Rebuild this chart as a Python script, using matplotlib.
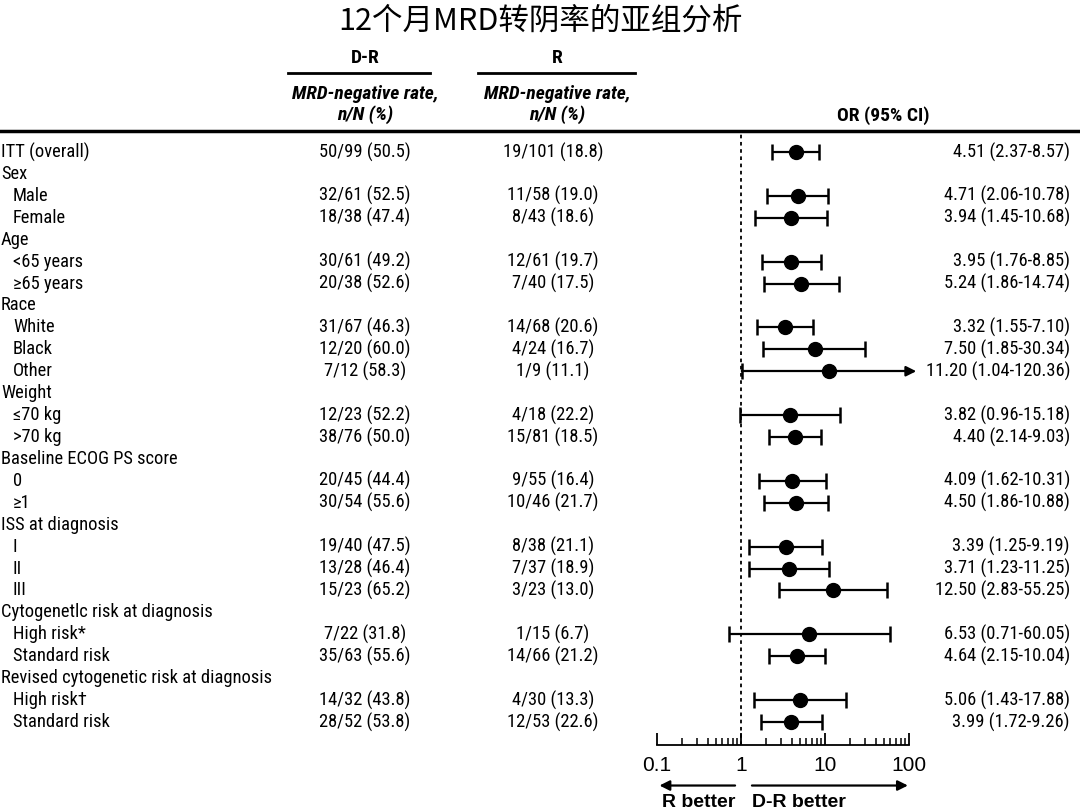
import matplotlib
matplotlib.use('Agg')
import matplotlib.pyplot as plt
import matplotlib.transforms as mtransforms
from matplotlib.ticker import LogLocator, NullFormatter, FixedLocator, FixedFormatter

#--------------------------------------------------
# forest plot: 12-month MRD-negative rate by subgroup
#--------------------------------------------------

labels = ['ITT (overall)', 'Sex', 'Male', 'Female', 'Age', '<65 years', '≥65 years',
          'Race', 'White', 'Black', 'Other', 'Weight', '≤70 kg', '>70 kg',
          'Baseline ECOG PS score', '0', '≥1', 'ISS at diagnosis', 'I', 'II', 'III',
          'Cytogenetlc risk at diagnosis', 'High risk*', 'Standard risk',
          'Revised cytogenetic risk at diagnosis', 'High risk†', 'Standard risk']
indent = [0, 0, 1, 1, 0, 1, 1, 0, 1, 1, 1, 0, 1, 1, 0, 1, 1, 0, 1, 1, 1, 0, 1, 1, 0, 1, 1]

dr_text = ['50/99 (50.5)', '', '32/61 (52.5)', '18/38 (47.4)', '', '30/61 (49.2)', '20/38 (52.6)',
           '', '31/67 (46.3)', '12/20 (60.0)', '7/12 (58.3)', '', '12/23 (52.2)', '38/76 (50.0)',
           '', '20/45 (44.4)', '30/54 (55.6)', '', '19/40 (47.5)', '13/28 (46.4)', '15/23 (65.2)',
           '', '7/22 (31.8)', '35/63 (55.6)', '', '14/32 (43.8)', '28/52 (53.8)']
r_text = ['19/101 (18.8)', '', '11/58 (19.0)', '8/43 (18.6)', '', '12/61 (19.7)', '7/40 (17.5)',
          '', '14/68 (20.6)', '4/24 (16.7)', '1/9 (11.1)', '', '4/18 (22.2)', '15/81 (18.5)',
          '', '9/55 (16.4)', '10/46 (21.7)', '', '8/38 (21.1)', '7/37 (18.9)', '3/23 (13.0)',
          '', '1/15 (6.7)', '14/66 (21.2)', '', '4/30 (13.3)', '12/53 (22.6)']

# odds ratio, lower and upper 95% CI (None for header rows)
odds = [4.51, None, 4.71, 3.94, None, 3.95, 5.24, None, 3.32, 7.50, 11.20, None, 3.82, 4.40,
        None, 4.09, 4.50, None, 3.39, 3.71, 12.50, None, 6.53, 4.64, None, 5.06, 3.99]
lower = [2.37, None, 2.06, 1.45, None, 1.76, 1.86, None, 1.55, 1.85, 1.04, None, 0.96, 2.14,
         None, 1.62, 1.86, None, 1.25, 1.23, 2.83, None, 0.71, 2.15, None, 1.43, 1.72]
upper = [8.57, None, 10.78, 10.68, None, 8.85, 14.74, None, 7.10, 30.34, 120.36, None, 15.18, 9.03,
         None, 10.31, 10.88, None, 9.19, 11.25, 55.25, None, 60.05, 10.04, None, 17.88, 9.26]

W, H = 1080, 810
narrow = ['Roboto Condensed', 'Liberation Sans', 'DejaVu Sans']
wide = ['Liberation Sans', 'DejaVu Sans']
plt.rcParams['font.family'] = narrow

fig = plt.figure(figsize=(10.8, 8.1), dpi=100)

# forest axes placed in pixel positions of the reference
x0, x1 = 657, 909
ytop, ybot = 131, 745
ax = fig.add_axes([x0 / W, 1 - ybot / H, (x1 - x0) / W, (ybot - ytop) / H])
ax.set_xscale('log')
ax.set_xlim(0.1, 100)
row0, rowN = 152, 722
step = (rowN - row0) / (len(labels) - 1)
ax.set_ylim(len(labels) - 1 + (ybot - rowN) / step, -(row0 - ytop) / step)

for s in ['top', 'left', 'right']:
    ax.spines[s].set_visible(False)
ax.spines['bottom'].set_linewidth(1.3)
ax.set_yticks([])
ax.xaxis.set_major_locator(FixedLocator([0.1, 1, 10, 100]))
ax.xaxis.set_major_formatter(FixedFormatter(['0.1', '1', '10', '100']))
ax.xaxis.set_minor_locator(LogLocator(base=10, subs=range(2, 10)))
ax.xaxis.set_minor_formatter(NullFormatter())
ax.tick_params(axis='x', which='major', direction='in', length=9, width=1.3,
               labelsize=15, pad=8)
ax.tick_params(axis='x', which='minor', direction='in', length=5, width=1.1)
for t in ax.get_xticklabels():
    t.set_family(wide)

ax.axvline(1, color='black', linestyle=(0, (2, 2)), linewidth=1.3, zorder=1)

for i in range(len(labels)):
    if odds[i] is None:
        continue
    if upper[i] > 100:
        # CI runs off the scale: line ends in an arrow
        ax.plot([lower[i], 100], [i, i], color='black', lw=1.6, zorder=2)
        ax.annotate('', xy=(122, i), xytext=(90, i), annotation_clip=False,
                    arrowprops=dict(arrowstyle='-|>', color='black', lw=1.6,
                                    mutation_scale=15, shrinkA=0, shrinkB=0))
        ax.plot([lower[i]], [i], marker='|', color='black', ms=12, mew=1.8, zorder=2)
        ax.plot([odds[i]], [i], 'o', color='black', ms=10, zorder=3)
    else:
        ax.errorbar([odds[i]], [i], xerr=[[odds[i] - lower[i]], [upper[i] - odds[i]]],
                    fmt='o', color='black', ms=10, elinewidth=1.6, capsize=6,
                    capthick=1.8, zorder=3, clip_on=False)

# arrows under the axis
ax.annotate('', xy=(0.107, -0.066), xytext=(0.85, -0.066),
            xycoords=('data', 'axes fraction'), textcoords=('data', 'axes fraction'),
            annotation_clip=False,
            arrowprops=dict(arrowstyle='-|>', color='black', lw=1.6, mutation_scale=15,
                            shrinkA=0, shrinkB=0))
ax.annotate('', xy=(97, -0.066), xytext=(1.35, -0.066),
            xycoords=('data', 'axes fraction'), textcoords=('data', 'axes fraction'),
            annotation_clip=False,
            arrowprops=dict(arrowstyle='-|>', color='black', lw=1.6, mutation_scale=15,
                            shrinkA=0, shrinkB=0))
ax.text(0.85, -0.094, 'R better', transform=ax.get_xaxis_transform(), ha='right', va='center',
        fontsize=14, fontweight='bold', family=wide)
ax.text(1.35, -0.094, 'D-R better', transform=ax.get_xaxis_transform(), ha='left', va='center',
        fontsize=14, fontweight='bold', family=wide)

# table columns: x in figure fraction, y in row index
tr = mtransforms.blended_transform_factory(fig.transFigure, ax.transData)
fs = 13.3
for i, lab in enumerate(labels):
    ax.text((1 + 12 * indent[i]) / W, i, lab, transform=tr, ha='left', va='center',
            fontsize=fs, clip_on=False)
    ax.text(365 / W, i, dr_text[i], transform=tr, ha='center', va='center', fontsize=fs)
    ax.text(553 / W, i, r_text[i], transform=tr, ha='center', va='center', fontsize=fs)
    if odds[i] is not None:
        ax.text(1070 / W, i, '%.2f (%.2f-%.2f)' % (odds[i], lower[i], upper[i]),
                transform=tr, ha='right', va='center', fontsize=fs)

# header
def fx(px):
    return px / W

def fy(py):
    return 1 - py / H

fig.text(0.5, fy(21), '12个月MRD转阴率的亚组分析', ha='center', va='center', fontsize=22,
         fontweight='medium', family=['Noto Sans CJK SC', 'DejaVu Sans'])
fig.text(fx(365), fy(58), 'D-R', ha='center', va='center', fontsize=14, fontweight='bold')
fig.text(fx(557), fy(58), 'R', ha='center', va='center', fontsize=14, fontweight='bold')
fig.add_artist(plt.Line2D([fx(288), fx(430)], [fy(73), fy(73)], color='black', lw=2))
fig.add_artist(plt.Line2D([fx(478), fx(635)], [fy(73), fy(73)], color='black', lw=2))
for cx in (365, 557):
    fig.text(fx(cx), fy(94), 'MRD-negative rate,', ha='center', va='center', fontsize=14,
             fontweight='bold', style='italic')
    fig.text(fx(cx), fy(115), 'n/N (%)', ha='center', va='center', fontsize=14,
             fontweight='bold', style='italic')
fig.text(fx(883), fy(116), 'OR (95% CI)', ha='center', va='center', fontsize=14,
         fontweight='bold')
fig.add_artist(plt.Line2D([0, 1], [fy(131), fy(131)], color='black', lw=2.5))

fig.savefig('out.png', dpi=100)
